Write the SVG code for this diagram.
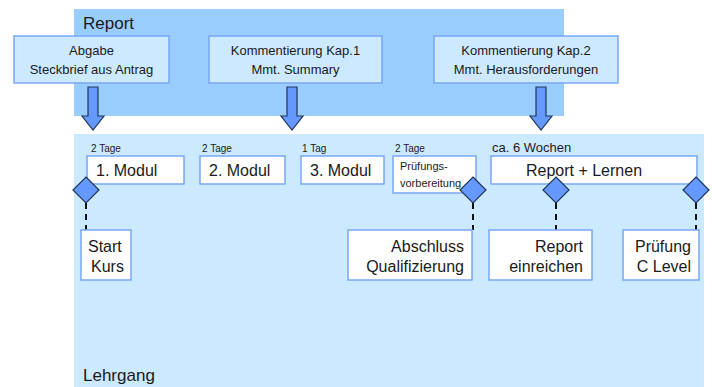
<svg xmlns="http://www.w3.org/2000/svg" width="712" height="387" viewBox="0 0 712 387">
<style>
text{font-family:"Liberation Sans","Open Sans",sans-serif;fill:#1a1a1a}
.box{fill:#cce9ff;stroke:#7aa6f5;stroke-width:1.5}
.wbox{fill:#ffffff;stroke:#7aa6f5;stroke-width:1.5}
.arr{fill:#6699ff;stroke:#1f3554;stroke-width:1.2}
.dia{fill:#6699ff;stroke:#1f3554;stroke-width:1.2}
.dash{stroke:#111;stroke-width:2;stroke-dasharray:6,5;fill:none}
.t13{font-size:13px}
.t15{font-size:15.5px}
.t16{font-size:16px}
.small{font-size:10px}
</style>
<rect id="report-lane" x="74" y="9" width="490" height="107" fill="#99ccff"/>
<rect id="lehrgang-lane" x="74" y="134" width="630" height="253" fill="#cceaff"/>
<text x="83" y="29" style="font-size:17px">Report</text>
<text x="83" y="381" style="font-size:17px">Lehrgang</text>

<g id="connectors">
<path class="arr" d="M88,87 H98 V116 H104 L93,130 L82,116 H88 Z"/>
<path class="arr" d="M287,87 H297 V116 H303 L292,130 L281,116 H287 Z"/>
<path class="arr" d="M536,87 H546 V116 H552 L541,130 L530,116 H536 Z"/>
<path class="dash" d="M86,203 V230"/>
<path class="dash" d="M473,203 V230"/>
<path class="dash" d="M556,203 V230"/>
<path class="dash" d="M696,203 V230"/>
</g>

<g id="abgabe"><rect class="box" x="14" y="36" width="155" height="47"/>
<text class="t13" x="91.5" y="55" text-anchor="middle">Abgabe</text>
<text class="t13" x="91.5" y="74" text-anchor="middle">Steckbrief aus Antrag</text></g>
<g id="kap1"><rect class="box" x="209" y="36" width="173" height="47"/>
<text class="t13" x="295.5" y="55" text-anchor="middle">Kommentierung Kap.1</text>
<text class="t13" x="295.5" y="74" text-anchor="middle">Mmt. Summary</text></g>
<g id="kap2"><rect class="box" x="434" y="36" width="184" height="47"/>
<text class="t13" x="526" y="55" text-anchor="middle">Kommentierung Kap.2</text>
<text class="t13" x="526" y="74" text-anchor="middle">Mmt. Herausforderungen</text></g>

<g id="modul1"><text class="small" x="91" y="152">2 Tage</text>
<rect class="wbox" x="87" y="156" width="97" height="28"/>
<text class="t16" x="96" y="176">1. Modul</text></g>
<g id="modul2"><text class="small" x="202" y="152">2 Tage</text>
<rect class="wbox" x="200" y="156" width="85" height="28"/>
<text class="t16" x="209" y="176">2. Modul</text></g>
<g id="modul3"><text class="small" x="302" y="152">1 Tag</text>
<rect class="wbox" x="301" y="156" width="83" height="28"/>
<text class="t16" x="310" y="176">3. Modul</text></g>
<g id="pruefungsvorbereitung"><text class="small" x="395" y="152">2 Tage</text>
<rect class="wbox" x="393" y="156" width="83" height="37"/>
<text x="400" y="170" style="font-size:11px">Prüfungs-</text>
<text x="400" y="187" style="font-size:11px">vorbereitung</text></g>
<g id="report-lernen"><text x="492" y="152" style="font-size:13px">ca. 6 Wochen</text>
<rect class="wbox" x="491" y="156" width="206" height="28"/>
<text class="t16" x="584" y="176" text-anchor="middle">Report + Lernen</text></g>

<g id="m-start"><path class="dia" d="M86,177 L99,190 L86,203 L73,190 Z"/></g>
<g id="m-abschluss"><path class="dia" d="M473,177 L486,190 L473,203 L460,190 Z"/></g>
<g id="m-report"><path class="dia" d="M556,177 L569,190 L556,203 L543,190 Z"/></g>
<g id="m-pruefung"><path class="dia" d="M696,177 L709,190 L696,203 L683,190 Z"/></g>

<g id="start-kurs"><rect class="wbox" x="81" y="230" width="50" height="50"/>
<text class="t16" x="88" y="252">Start</text>
<text class="t16" x="91" y="272">Kurs</text></g>
<g id="abschluss"><rect class="wbox" x="348" y="230" width="124" height="50"/>
<text class="t16" x="464" y="252" text-anchor="end">Abschluss</text>
<text class="t16" x="464" y="272" text-anchor="end">Qualifizierung</text></g>
<g id="report-einreichen"><rect class="wbox" x="489" y="230" width="103" height="50"/>
<text class="t16" x="583" y="252" text-anchor="end">Report</text>
<text class="t16" x="583" y="272" text-anchor="end">einreichen</text></g>
<g id="pruefung-c"><rect class="wbox" x="623" y="230" width="76" height="50"/>
<text class="t16" x="691" y="252" text-anchor="end">Prüfung</text>
<text class="t16" x="691" y="272" text-anchor="end">C Level</text></g>
</svg>
